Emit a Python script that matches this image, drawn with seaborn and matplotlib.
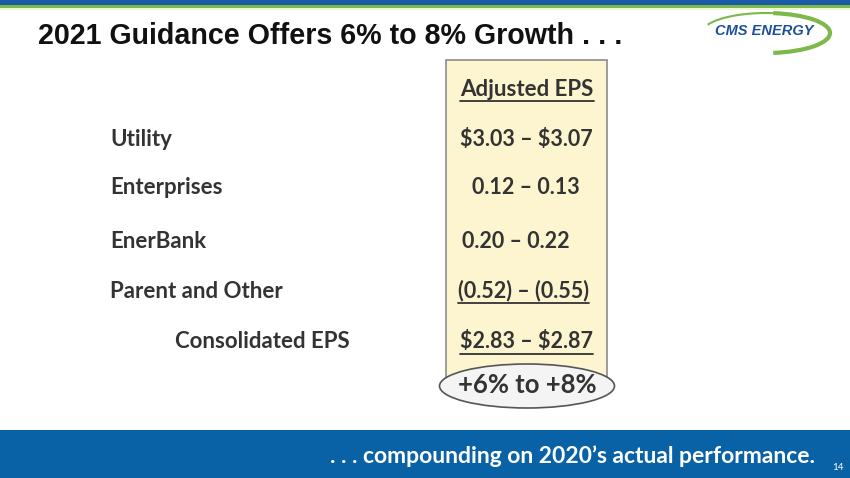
import matplotlib
matplotlib.use("Agg")
import matplotlib.pyplot as plt
from matplotlib.patches import Rectangle, Ellipse, Arc
import seaborn as sns

# ---------------------------------------------
# Slide data
# ---------------------------------------------
title = "2021 Guidance Offers 6% to 8% Growth . . ."
column_header = "Adjusted EPS"
segments = ["Utility", "Enterprises", "EnerBank", "Parent and Other", "Consolidated EPS"]
eps_ranges = ["\\$3.03 \u2013 \\$3.07", "0.12 \u2013 0.13", "0.20 \u2013 0.22",
              "(0.52) \u2013 (0.55)", "\\$2.83 \u2013 \\$2.87"]
underlined = [False, False, False, True, True]
growth = "+6% to +8%"
footer = ". . . compounding on 2020\u2019s actual performance."
page_no = "14"

# layout (pixel coordinates)
row_y = [139, 188, 241, 291, 342]
label_x = [110, 110, 110, 110, 175]
value_x = [526, 526, 516, 524, 527]

sns.set_theme(style="white")
plt.rcParams["font.family"] = ["Lato", "DejaVu Sans"]

TEXT = "#333333"
BLUE = "#0a62a6"

fig = plt.figure(figsize=(8.5, 4.78), dpi=100)
ax = fig.add_axes([0, 0, 1, 1])
ax.set_xlim(0, 850)
ax.set_ylim(478, 0)
ax.axis("off")

# top stripes
ax.add_patch(Rectangle((0, 0), 850, 5, color="#1b5ca8", lw=0))
ax.add_patch(Rectangle((0, 5), 850, 3, color="#7cb84a", lw=0))
ax.add_patch(Rectangle((0, 8), 850, 1.5, color="#eef5d8", lw=0))

# title
ax.text(38, 36, title, fontsize=20.6, fontweight="bold", color="#111111",
        ha="left", va="center", family=["Liberation Sans", "DejaVu Sans"])

# logo: green swoosh + wordmark
ax.add_patch(Arc((766, 33), 128, 40, theta1=188, theta2=300, color="#7cb84a", lw=1.5))
ax.add_patch(Arc((766, 33), 128, 40, theta1=290, theta2=70, color="#7cb84a", lw=3))
ax.text(764, 31, "CMS ENERGY", fontsize=10.5, fontweight="bold", style="italic",
        color="#1d4f9c", ha="center", va="center",
        family=["Liberation Sans", "DejaVu Sans"])

# highlighted column
ax.add_patch(Rectangle((446, 60), 161, 320, facecolor="#fdf5cf",
                       edgecolor="#8c8c8c", lw=1.2))


def underline(txt):
    fig.canvas.draw()
    bb = txt.get_window_extent().transformed(ax.transData.inverted())
    y = max(bb.y0, bb.y1) + 1
    ax.plot([bb.x0, bb.x1], [y, y], color=TEXT, lw=1.3)


hdr = ax.text(527, 89, column_header, fontsize=16, fontweight="bold", color=TEXT,
              ha="center", va="center")
underline(hdr)

for name, val, ul, y, lx, vx in zip(segments, eps_ranges, underlined,
                                    row_y, label_x, value_x):
    ax.text(lx, y, name, fontsize=16, fontweight="bold", color=TEXT,
            ha="left", va="center")
    t = ax.text(vx, y, val, fontsize=15.5, fontweight="bold", color=TEXT,
                ha="center", va="center")
    if ul:
        underline(t)

# growth ellipse
ax.add_patch(Ellipse((527, 386), 175, 44, facecolor="#f4f4f4",
                     edgecolor="#555555", lw=1.2))
ax.text(527, 385, growth, fontsize=18.5, fontweight="bold", color=TEXT,
        ha="center", va="center")

# footer band
ax.add_patch(Rectangle((0, 430), 850, 48, color=BLUE, lw=0))
ax.text(815, 456, footer, fontsize=16.5, fontweight="bold", color="white",
        ha="right", va="center")
ax.text(832, 467, page_no, fontsize=7, color="white", ha="left", va="center")

fig.savefig("out.png", dpi=100)
